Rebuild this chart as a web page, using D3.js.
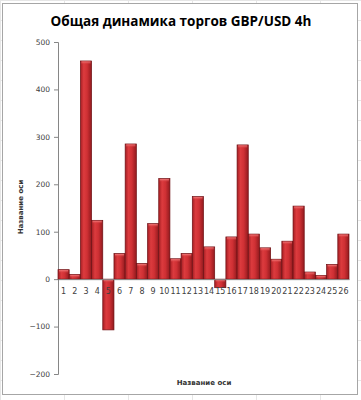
<!DOCTYPE html>
<html>
<head>
<meta charset="utf-8">
<script src="https://cdn.jsdelivr.net/npm/d3@7"></script>
<style>
  body { margin: 0; background: #fff; }
  svg { display: block; }
  .tick text { font-family: "DejaVu Sans", sans-serif; fill: #404040; }
</style>
</head>
<body>
<div id="chart"></div>
<script>
// categories and values
let categories = d3.range(1, 27).map(String);
let values = [20, 10, 460, 124, -107, 54, 285, 33, 117, 212,
              43, 54, 174, 68, -18, 89, 283, 95, 66, 42,
              80, 154, 15, 8, 31, 95];
let yTicks = [-200, -100, 0, 100, 200, 300, 400, 500];

let titleText = "Общая динамика торгов GBP/USD 4h";
let axisName = "Название оси";

let width = 361, height = 400;
let margin = {top: 42, right: 12, bottom: 26, left: 58};

let svg = d3.select("#chart").append("svg")
    .attr("width", width)
    .attr("height", height);

// spreadsheet grid behind the chart
let grid = svg.append("g").attr("stroke", "#e6e6e6").attr("stroke-width", 1);
for (let y = 0.5; y < height; y += 20) {
    grid.append("line").attr("x1", 0).attr("x2", width).attr("y1", y).attr("y2", y);
}
for (let x = 0.5; x < width; x += 64) {
    grid.append("line").attr("y1", 0).attr("y2", height).attr("x1", x).attr("x2", x);
}

svg.append("rect")
    .attr("x", 2.5).attr("y", 3.5)
    .attr("width", 355).attr("height", 391)
    .attr("fill", "#fff")
    .attr("stroke", "#a6a6a6");

let x = d3.scaleBand()
    .domain(categories)
    .range([margin.left, 349])
    .padding(0);

let y = d3.scaleLinear()
    .domain([-200, 500])
    .range([374, 42]);

// gradients for the bar shading
let defs = svg.append("defs");
let grad = defs.append("linearGradient").attr("id", "barGrad")
    .attr("x1", "0%").attr("x2", "100%").attr("y1", "0%").attr("y2", "0%");
grad.append("stop").attr("offset", "0%").attr("stop-color", "#a51e23");
grad.append("stop").attr("offset", "30%").attr("stop-color", "#dc3b3e");
grad.append("stop").attr("offset", "60%").attr("stop-color", "#cf3034");
grad.append("stop").attr("offset", "100%").attr("stop-color", "#921a1e");

let capGrad = defs.append("linearGradient").attr("id", "capGrad")
    .attr("x1", "0%").attr("x2", "0%").attr("y1", "0%").attr("y2", "100%");
capGrad.append("stop").attr("offset", "0%").attr("stop-color", "#f27d7d");
capGrad.append("stop").attr("offset", "100%").attr("stop-color", "#d8393c").attr("stop-opacity", 0);

// y axis
let yAxis = svg.append("g")
    .attr("transform", "translate(" + margin.left + ",0)")
    .call(d3.axisLeft(y).tickValues(yTicks).tickSize(4).tickPadding(4));
yAxis.select(".domain").attr("stroke", "#868686");
yAxis.selectAll(".tick line").attr("stroke", "#868686");
yAxis.selectAll(".tick text").attr("font-size", 7.5);

// bars
let bars = svg.append("g").selectAll("g")
    .data(values)
    .enter()
    .append("g");

bars.append("rect")
    .attr("x", (d, i) => x(categories[i]))
    .attr("y", d => y(Math.max(0, d)))
    .attr("width", x.bandwidth())
    .attr("height", d => Math.abs(y(d) - y(0)))
    .attr("fill", "url(#barGrad)")
    .attr("stroke", "#6e1014")
    .attr("stroke-width", 0.7);

bars.append("rect")
    .attr("x", (d, i) => x(categories[i]) + 1)
    .attr("y", d => y(Math.max(0, d)) + 0.5)
    .attr("width", x.bandwidth() - 2)
    .attr("height", d => Math.min(3, Math.abs(y(d) - y(0)) - 1))
    .attr("fill", "url(#capGrad)");

// x axis at zero
let xAxis = svg.append("g")
    .attr("transform", "translate(0," + y(0) + ")")
    .call(d3.axisBottom(x).tickSize(0).tickPadding(9));
xAxis.select(".domain").attr("stroke", "#868686");
xAxis.selectAll(".tick text").attr("font-size", 8);

// titles
svg.append("text")
    .attr("x", 181).attr("y", 26)
    .attr("text-anchor", "middle")
    .attr("font-family", "Open Sans, sans-serif")
    .attr("font-weight", "bold")
    .attr("font-size", 13.5)
    .attr("fill", "#000")
    .text(titleText);

svg.append("text")
    .attr("x", 204).attr("y", 385)
    .attr("text-anchor", "middle")
    .attr("font-family", "DejaVu Sans, sans-serif")
    .attr("font-weight", "bold")
    .attr("font-size", 7)
    .attr("fill", "#333")
    .text(axisName);

svg.append("text")
    .attr("transform", "translate(23,207) rotate(-90)")
    .attr("text-anchor", "middle")
    .attr("font-family", "DejaVu Sans, sans-serif")
    .attr("font-weight", "bold")
    .attr("font-size", 7)
    .attr("fill", "#333")
    .text(axisName);
</script>
</body>
</html>
